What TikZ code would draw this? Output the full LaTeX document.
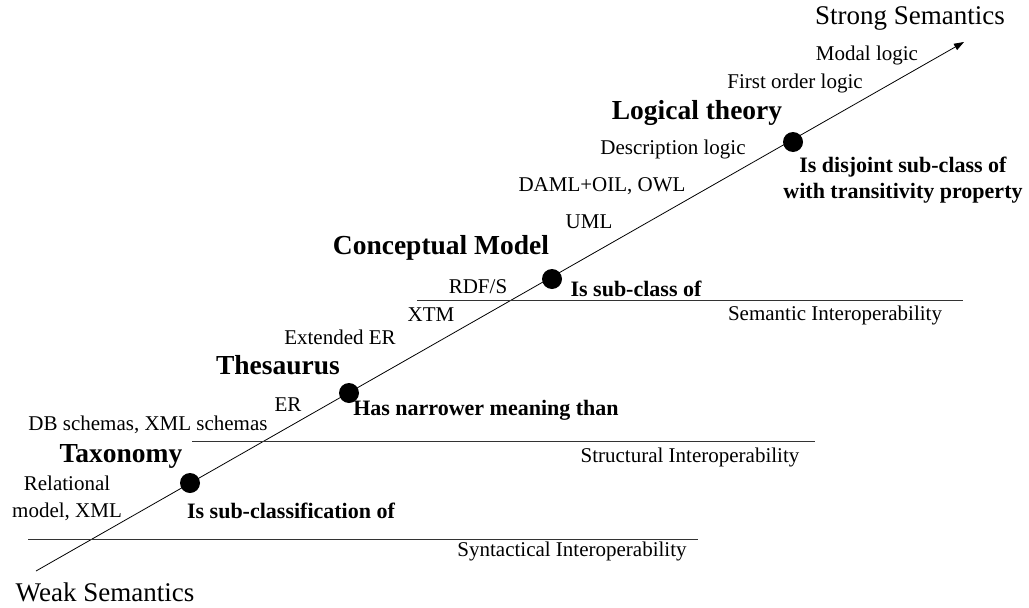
\documentclass[tikz,border=0pt]{standalone}
\usepackage{fontspec}
\setmainfont{Liberation Serif}
\usetikzlibrary{arrows.meta}
\begin{document}
\begin{tikzpicture}[x=1pt,y=-1pt,
  lbl/.style={inner sep=0pt,font=\fontsize{21}{27}\selectfont,align=center},
  rel/.style={inner sep=0pt,font=\fontsize{22}{26}\selectfont\bfseries,align=center},
  level/.style={inner sep=0pt,font=\fontsize{27.5}{30}\selectfont\bfseries},
  pole/.style={inner sep=0pt,font=\fontsize{27}{30}\selectfont},
  dot/.style={circle,fill=black,minimum size=20pt,inner sep=0pt},
  tier/.style={line width=1pt,draw=black!80}]
\useasboundingbox (0,0) rectangle (1029,608);

% semantic axis
\coordinate (lo) at (36,571);
\coordinate (hi) at (964,42);
\draw[line width=0.8pt,-{Triangle[length=10pt,width=7pt]}] (lo) -- (hi);

% interoperability tiers
\coordinate (syA) at (28,539);  \coordinate (syB) at (698,539);
\coordinate (stA) at (192,441); \coordinate (stB) at (815,441);
\coordinate (seA) at (417,300); \coordinate (seB) at (963,300);
\draw[tier] (syA) -- (syB);
\draw[tier] (stA) -- (stB);
\draw[tier] (seA) -- (seB);
\node[lbl] (syn) at (572,551) {Syntactical Interoperability};
\node[lbl] (str) at (690,457) {Structural Interoperability};
\node[lbl] (sem) at (835,315) {Semantic Interoperability};

% points on the axis
\node[dot] (tax) at (190,483) {};
\node[dot] (the) at (349,393) {};
\node[dot] (con) at (552,279) {};
\node[dot] (log) at (793,142) {};

% poles
\node[pole] (weak) at (105,592) {Weak Semantics};
\node[pole] (strong) at (910,18) {Strong Semantics};

% levels
\node[level] (taxl) at (121,456) {Taxonomy};
\node[level] (thel) at (278,365) {Thesaurus};
\node[level] (conl) at (441,248) {Conceptual Model};
\node[level] (logl) at (697,113) {Logical theory};

% languages
\node[lbl] (relm) at (67,498) {Relational\\model, XML};
\node[lbl] (dbs) at (148,425) {DB schemas, XML schemas};
\node[lbl] (er) at (288,405) {ER};
\node[lbl] (eer) at (340,337) {Extended ER};
\node[lbl] (xtm) at (431,315) {XTM};
\node[lbl] (rdfs) at (478,287) {RDF/S};
\node[lbl] (uml) at (589,222) {UML};
\node[lbl] (daml) at (602,186) {DAML+OIL, OWL};
\node[lbl] (dl) at (673,149) {Description logic};
\node[lbl] (fol) at (795,83) {First order logic};
\node[lbl] (modal) at (867,55) {Modal logic};

% relations
\node[rel] (r1) at (291,511) {Is sub-classification of};
\node[rel] (r2) at (486,410) {Has narrower meaning than};
\node[rel] (r3) at (636,289) {Is sub-class of};
\node[rel] (r4) at (903,180) {Is disjoint sub-class of\\with transitivity property};
\end{tikzpicture}
\end{document}
